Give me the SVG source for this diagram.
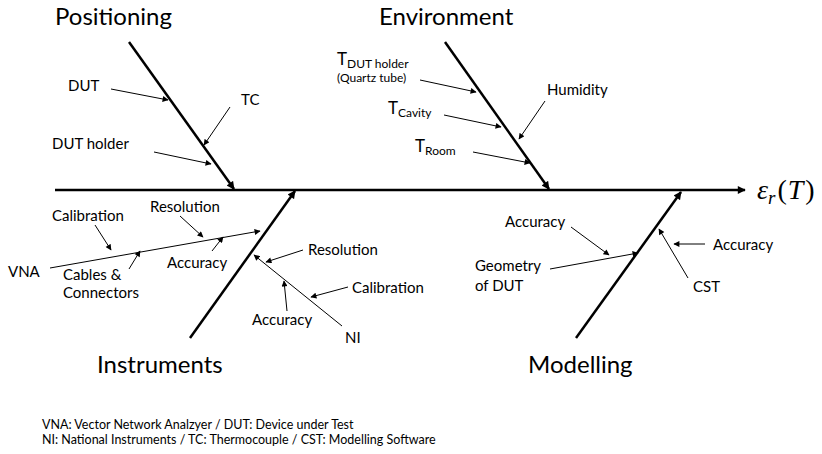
<svg xmlns="http://www.w3.org/2000/svg" width="822" height="454" viewBox="0 0 822 454">
<style>
text{font-family:Lato,"Open Sans","Liberation Sans",sans-serif;fill:#000}
.title{font-size:24px}
.lbl{font-size:15px}
.big{font-size:17px}
.sub{font-size:12px}
.small{font-size:12px}
.foot{font-size:12.5px}
.bone{stroke:#000;stroke-width:2.5;fill:none}
.thin{stroke:#000;stroke-width:1;fill:none}
.math{font-family:"Liberation Serif","DejaVu Serif",serif;font-size:28px}
</style>
<defs>
<marker id="big" viewBox="0 0 10 10" refX="9" refY="5" markerWidth="9" markerHeight="8" markerUnits="userSpaceOnUse" orient="auto"><path d="M0,0 L10,5 L0,10 z" fill="#000"/></marker>
<marker id="sm" viewBox="0 0 10 10" refX="9" refY="5" markerWidth="7" markerHeight="6" markerUnits="userSpaceOnUse" orient="auto"><path d="M0,0 L10,5 L0,10 z" fill="#000"/></marker>
</defs>
<rect width="822" height="454" fill="#fff"/>
<g id="connectors">
<line class="bone" x1="55" y1="190" x2="745" y2="190" marker-end="url(#big)"/>
<line class="bone" x1="129" y1="42" x2="234" y2="189" marker-end="url(#big)"/>
<line class="bone" x1="445" y1="42" x2="549" y2="189" marker-end="url(#big)"/>
<line class="bone" x1="190" y1="338" x2="295" y2="191" marker-end="url(#big)"/>
<line class="bone" x1="576" y1="338" x2="681" y2="192" marker-end="url(#big)"/>
<line class="thin" x1="111" y1="89" x2="168" y2="100" marker-end="url(#sm)"/>
<line class="thin" x1="230" y1="107" x2="204" y2="145" marker-end="url(#sm)"/>
<line class="thin" x1="154" y1="152" x2="211" y2="164" marker-end="url(#sm)"/>
<line class="thin" x1="420" y1="80" x2="476" y2="92" marker-end="url(#sm)"/>
<line class="thin" x1="444" y1="115" x2="501" y2="127" marker-end="url(#sm)"/>
<line class="thin" x1="473" y1="152" x2="530" y2="163" marker-end="url(#sm)"/>
<line class="thin" x1="545" y1="101" x2="519" y2="139" marker-end="url(#sm)"/>
<line class="thin" x1="50" y1="268" x2="260" y2="231" marker-end="url(#sm)"/>
<line class="thin" x1="95" y1="225" x2="111" y2="250" marker-end="url(#sm)"/>
<line class="thin" x1="180" y1="216" x2="203" y2="237" marker-end="url(#sm)"/>
<line class="thin" x1="129" y1="269" x2="140" y2="251" marker-end="url(#sm)"/>
<line class="thin" x1="212" y1="251" x2="223" y2="237" marker-end="url(#sm)"/>
<line class="thin" x1="303" y1="250" x2="266" y2="262" marker-end="url(#sm)"/>
<line class="thin" x1="342" y1="326" x2="254" y2="255" marker-end="url(#sm)"/>
<line class="thin" x1="348" y1="287" x2="311" y2="297" marker-end="url(#sm)"/>
<line class="thin" x1="287" y1="311" x2="284" y2="281" marker-end="url(#sm)"/>
<line class="thin" x1="571" y1="227" x2="609" y2="255" marker-end="url(#sm)"/>
<line class="thin" x1="550" y1="269" x2="638" y2="253" marker-end="url(#sm)"/>
<line class="thin" x1="705" y1="244" x2="674" y2="244" marker-end="url(#sm)"/>
<line class="thin" x1="688" y1="278" x2="659" y2="229" marker-end="url(#sm)"/>
</g>
<g id="effect"><text class="math" x="757" y="199"><tspan font-style="italic">ε</tspan><tspan font-style="italic" font-size="19" dy="5">r</tspan><tspan dy="-5" dx="2">(</tspan><tspan font-style="italic" dx="1">T</tspan><tspan dx="2">)</tspan></text></g>
<g id="positioning">
<text class="title" x="55" y="25">Positioning</text>
<text class="lbl" x="68" y="91">DUT</text>
<text class="lbl" x="241" y="105">TC</text>
<text class="lbl" x="52" y="149">DUT holder</text>
</g>
<g id="environment">
<text class="title" x="379" y="25">Environment</text>
<text x="337" y="65"><tspan class="big">T</tspan><tspan class="sub" dy="3">DUT holder</tspan></text>
<text class="small" x="337" y="82">(Quartz tube)</text>
<text x="388" y="114"><tspan class="big">T</tspan><tspan class="sub" dy="3">Cavity</tspan></text>
<text x="415" y="152"><tspan class="big">T</tspan><tspan class="sub" dy="3">Room</tspan></text>
<text class="lbl" x="547" y="95">Humidity</text>
</g>
<g id="instruments">
<text class="title" x="97" y="373">Instruments</text>
<text class="lbl" x="8" y="277">VNA</text>
<text class="lbl" x="52" y="221">Calibration</text>
<text class="lbl" x="150" y="212">Resolution</text>
<text class="lbl" x="63" y="280">Cables &amp;</text>
<text class="lbl" x="63" y="298">Connectors</text>
<text class="lbl" x="167" y="268">Accuracy</text>
<text class="lbl" x="308" y="255">Resolution</text>
<text class="lbl" x="352" y="293">Calibration</text>
<text class="lbl" x="252" y="325">Accuracy</text>
<text class="lbl" x="345" y="343">NI</text>
</g>
<g id="modelling">
<text class="title" x="528" y="373">Modelling</text>
<text class="lbl" x="505" y="227">Accuracy</text>
<text class="lbl" x="475" y="271">Geometry</text>
<text class="lbl" x="475" y="291">of DUT</text>
<text class="lbl" x="713" y="250">Accuracy</text>
<text class="lbl" x="693" y="292">CST</text>
</g>
<g id="legend">
<text class="foot" x="42" y="429">VNA: Vector Network Analzyer / DUT: Device under Test</text>
<text class="foot" x="42" y="444">NI: National Instruments / TC: Thermocouple / CST: Modelling Software</text>
</g>
</svg>
